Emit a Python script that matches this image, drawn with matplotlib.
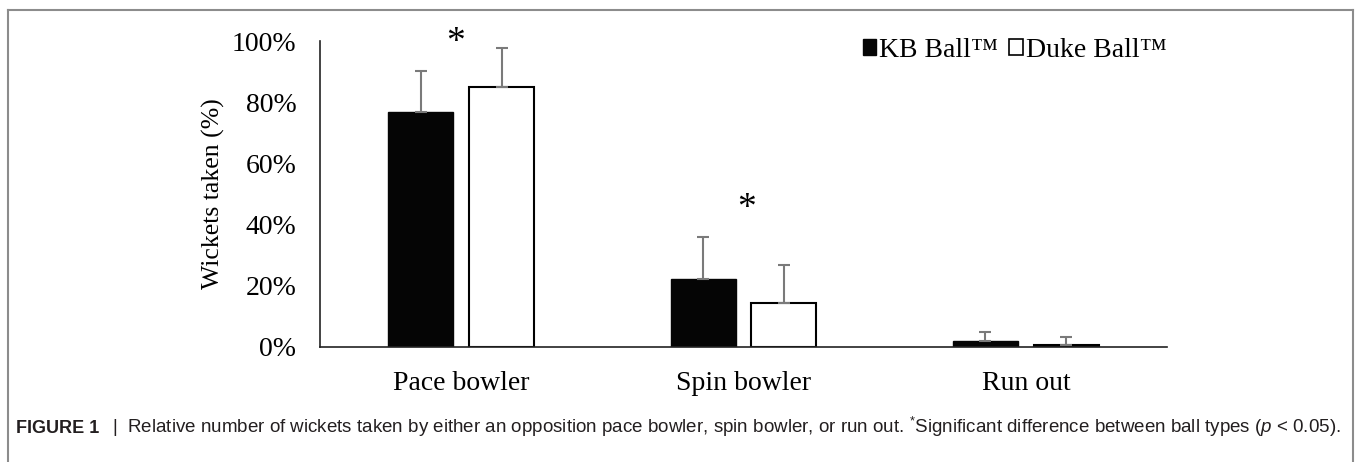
import numpy as np
import matplotlib
matplotlib.use("Agg")
import matplotlib.pyplot as plt
from matplotlib.patches import Patch
from matplotlib.lines import Line2D
from matplotlib.ticker import FuncFormatter

plt.rcParams["font.family"] = ["Liberation Serif", "DejaVu Serif"]
plt.rcParams["mathtext.fontset"] = "custom"
plt.rcParams["mathtext.rm"] = "Liberation Sans"
plt.rcParams["mathtext.it"] = "Liberation Sans:italic"

# data (% of wickets, mean and SD)
categories = ["Pace bowler", "Spin bowler", "Run out"]
kb_mean = [76.7, 22.1, 1.8]
kb_sd = [13.6, 13.8, 3.1]
duke_mean = [85.1, 14.3, 0.8]
duke_sd = [12.7, 12.5, 2.3]
sig_idx = [0, 1]
series_labels = ["KB Ball\u2122", "Duke Ball\u2122"]

fig = plt.figure(figsize=(13.57, 4.62), dpi=100)
ax = fig.add_axes([0.2358, 0.249, 0.6242, 0.662])

x = np.arange(len(categories))
w = 0.23
off = 0.143
err_kw = dict(ecolor="#7a7a7a", elinewidth=1.5, capsize=4, capthick=1.5)

ax.bar(x - off, kb_mean, w, color="#050505", edgecolor="#050505", linewidth=1,
       yerr=[np.zeros(len(x)), kb_sd], error_kw=err_kw)
ax.bar(x + off, duke_mean, w, color="white", edgecolor="black", linewidth=1.5,
       yerr=[np.zeros(len(x)), duke_sd], error_kw=err_kw)

# significance markers
star_y = [99.5, 45.3]
star_dx = [-0.02, 0.01]
for i, y, dx in zip(sig_idx, star_y, star_dx):
    ax.text(x[i] + dx, y, "*", ha="center", va="center", fontsize=27, clip_on=False)

ax.set_xlim(-0.5, 2.5)
ax.set_ylim(0, 100)
ax.set_yticks(np.arange(0, 101, 20))
ax.yaxis.set_major_formatter(FuncFormatter(lambda v, p: f"{v:.0f}%"))
ax.set_xticks(x)
ax.set_xticklabels(categories)
ax.tick_params(axis="y", length=0, pad=17, labelsize=20)
ax.tick_params(axis="x", length=0, pad=17, labelsize=20)
ax.set_ylabel("Wickets taken (%)", fontsize=18.5, labelpad=5)
for s in ["top", "right"]:
    ax.spines[s].set_visible(False)
for s in ["left", "bottom"]:
    ax.spines[s].set_color("#222222")
    ax.spines[s].set_linewidth(1.2)

handles = [Patch(facecolor="#050505", edgecolor="#050505"),
           Patch(facecolor="white", edgecolor="black", linewidth=1.2)]
ax.legend(handles, series_labels, loc="upper right", ncol=2, frameon=False,
          bbox_to_anchor=(1167 / 1357, 1 - 38 / 462), bbox_transform=fig.transFigure,
          fontsize=20, handlelength=0.5, handleheight=0.5, handletextpad=0.1,
          columnspacing=0.4, borderpad=0, borderaxespad=0)

# figure frame (open at the bottom)
fc = "#8c8c8c"
fig.add_artist(Line2D([8 / 1357, 8 / 1357], [0, 1 - 10 / 462], color=fc, lw=1.5))
fig.add_artist(Line2D([8 / 1357, 1353 / 1357], [1 - 10 / 462, 1 - 10 / 462], color=fc, lw=1.5))
fig.add_artist(Line2D([1353 / 1357, 1353 / 1357], [0, 1 - 10 / 462], color=fc, lw=1.5))

# caption
cap_y = 1 - 433 / 462
fig.text(16 / 1357, cap_y, "FIGURE 1", fontsize=13, fontweight="bold",
         family="Liberation Sans", va="baseline", color="#231f20")
fig.text(112 / 1357, cap_y,
         "|  Relative number of wickets taken by either an opposition pace bowler, "
         "spin bowler, or run out. $^{*}$Significant difference between ball types "
         "($\\it{p}$ < 0.05).",
         fontsize=13.5, family="Liberation Sans", va="baseline", color="#231f20")

fig.savefig("out.png", dpi=100)
